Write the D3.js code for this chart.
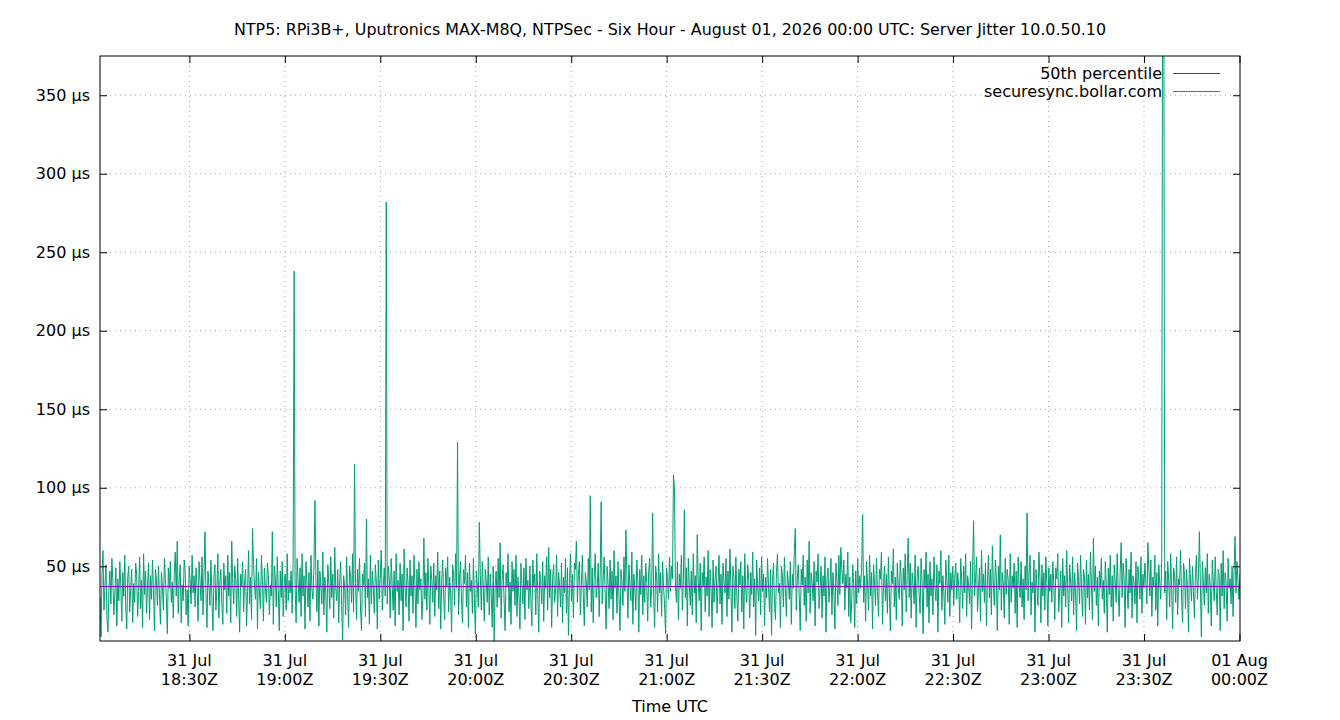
<!DOCTYPE html>
<html>
<head>
<meta charset="utf-8">
<script src="https://d3js.org/d3.v7.min.js"></script>
<style>
  body { margin: 0; background: #fff; }
  svg text { font-family: "DejaVu Sans", sans-serif; font-size: 16px; fill: #000; }
  .title { font-size: 15.9px; }
</style>
</head>
<body>
<svg id="chart" width="1340" height="720"></svg>
<script>
// chart text
const title = "NTP5: RPi3B+, Uputronics MAX-M8Q, NTPSec - Six Hour - August 01, 2026 00:00 UTC: Server Jitter 10.0.50.10";
const xTitle = "Time UTC";
const seriesNames = ["50th percentile", "securesync.bollar.com"];

// time range of the samples (UTC)
const startTime = "2026-07-31T18:01:55Z";
const endTime = "2026-08-01T00:00:10Z";

// x ticks every 30 min, y ticks in µs
const xTickTimes = [
  "2026-07-31T18:30:00Z", "2026-07-31T19:00:00Z", "2026-07-31T19:30:00Z",
  "2026-07-31T20:00:00Z", "2026-07-31T20:30:00Z", "2026-07-31T21:00:00Z",
  "2026-07-31T21:30:00Z", "2026-07-31T22:00:00Z", "2026-07-31T22:30:00Z",
  "2026-07-31T23:00:00Z", "2026-07-31T23:30:00Z", "2026-08-01T00:00:00Z"
];
const yTicks = [50, 100, 150, 200, 250, 300, 350];
const yRange = [2.4, 375];

// 50th percentile of the jitter, µs
const median50 = 37.3;

// server jitter in µs, two lines per half hour
const jitter = [
  30, 5, 44, 60, 22, 38, 51, 17, 8, 35, 47, 26, 55, 40, 19, 33, 49, 12, 42, 28, 53, 37, 15, 46, 31, 57, 24, 10, 43, 50, 21, 36, 48, 14, 39, 27, 52, 45, 18, 34, 56, 23, 41, 11, 58, 32, 47, 20,
  38, 52, 16, 44, 29, 54, 35, 9, 48, 41, 25, 50, 33, 13, 46, 37, 22, 55, 42, 30, 7, 49, 36, 53, 27, 40, 17, 45, 59, 31, 66, 20, 43, 51, 14, 38, 28, 54, 47, 19, 35, 12, 50, 41, 26, 57, 33, 44,
  24, 49, 37, 15, 53, 41, 28, 56, 19, 45, 72, 33, 11, 47, 38, 25, 54, 30, 9, 43, 51, 22, 36, 58, 17, 40, 48, 27, 13, 52, 35, 44, 20, 57, 31, 46, 14, 66, 39, 26, 50, 42, 18, 55, 29, 8, 45, 37,
  53, 21, 40, 48, 12, 34, 60, 26, 43, 16, 74, 51, 38, 29, 55, 10, 46, 33, 23, 57, 41, 15, 49, 36, 27, 52, 44, 19, 38, 31, 72, 13, 50, 42, 24, 56, 35, 9, 47, 30, 53, 18, 39, 45, 22, 58, 28, 41,
  33, 47, 20, 52, 238, 36, 14, 55, 41, 27, 49, 18, 58, 31, 44, 10, 53, 38, 24, 46, 15, 57, 35, 29, 50, 92, 42, 21, 54, 12, 47, 37, 26, 59, 19, 43, 33, 8, 51, 40, 23, 56, 30, 45, 17, 62, 36, 28,
  48, 14, 41, 53, 25, 3, 44, 37, 19, 56, 32, 11, 50, 43, 27, 58, 21, 115, 39, 16, 48, 34, 55, 24, 9, 45, 38, 52, 18, 80, 30, 42, 13, 57, 26, 47, 35, 20, 51, 40, 10, 54, 29, 44, 60, 22, 37, 49,
  31, 282, 26, 50, 43, 17, 55, 38, 22, 47, 12, 58, 34, 41, 19, 52, 28, 45, 9, 61, 36, 24, 49, 40, 15, 54, 31, 44, 20, 57, 38, 11, 48, 26, 53, 35, 42, 16, 30, 68, 29, 46, 22, 55, 37, 13, 50, 41,
  27, 52, 18, 44, 35, 59, 23, 47, 10, 40, 54, 30, 16, 49, 37, 56, 21, 43, 33, 8, 51, 45, 25, 58, 36, 129, 19, 42, 53, 28, 14, 48, 39, 57, 24, 46, 11, 52, 34, 41, 20, 55, 30, 7, 47, 38, 24, 78,
  44, 22, 53, 36, 15, 48, 40, 27, 56, 19, 45, 33, 11, 50, 2, 38, 47, 24, 55, 30, 65, 17, 42, 51, 28, 9, 46, 37, 58, 21, 40, 13, 53, 34, 48, 25, 57, 18, 43, 31, 10, 52, 39, 26, 49, 16, 55, 35,
  41, 23, 50, 29, 12, 54, 37, 45, 19, 58, 32, 8, 47, 40, 26, 53, 15, 44, 36, 56, 22, 62, 30, 48, 11, 42, 51, 27, 35, 57, 18, 46, 38, 24, 52, 14, 43, 33, 55, 20, 49, 6, 39, 58, 28, 45, 17, 52,
  48, 66, 27, 44, 53, 19, 38, 57, 31, 12, 46, 40, 24, 55, 35, 95, 21, 49, 14, 43, 58, 30, 37, 52, 18, 45, 91, 26, 41, 56, 33, 10, 50, 39, 23, 54, 29, 47, 16, 60, 36, 44, 20, 53, 31, 9, 48, 40,
  25, 56, 34, 73, 42, 17, 51, 38, 28, 59, 13, 45, 36, 22, 54, 41, 8, 48, 32, 57, 19, 44, 27, 52, 39, 15, 47, 55, 24, 35, 84, 30, 11, 50, 43, 21, 58, 33, 46, 18, 53, 37, 26, 7, 49, 41, 29, 56,
  34, 50, 42, 108, 100, 38, 27, 53, 16, 45, 36, 57, 22, 41, 86, 30, 49, 12, 55, 38, 25, 47, 19, 58, 33, 44, 14, 70, 40, 28, 52, 9, 46, 37, 56, 21, 43, 31, 60, 18, 48, 35, 11, 54, 27, 42, 50, 20,
  39, 57, 26, 45, 13, 52, 40, 33, 55, 18, 47, 29, 61, 36, 8, 50, 43, 23, 56, 31, 15, 48, 38, 53, 21, 44, 10, 58, 35, 27, 51, 41, 17, 46, 32, 59, 24, 42, 6, 54, 37, 28, 49, 19, 56, 34, 45, 12,
  43, 30, 55, 37, 21, 48, 6, 41, 52, 26, 16, 46, 58, 33, 39, 11, 50, 44, 24, 56, 35, 18, 47, 40, 29, 53, 13, 45, 36, 60, 74, 22, 42, 51, 31, 9, 48, 38, 57, 25, 43, 15, 54, 33, 66, 20, 46, 39,
  28, 53, 12, 47, 40, 58, 23, 35, 50, 17, 44, 31, 56, 8, 42, 49, 27, 38, 55, 19, 46, 34, 10, 52, 41, 25, 57, 32, 62, 48, 39, 54, 22, 45, 36, 59, 18, 43, 14, 29, 51, 37, 11, 47, 26, 55, 33, 44,
  36, 49, 83, 27, 44, 15, 53, 38, 22, 57, 31, 46, 10, 51, 40, 25, 55, 34, 18, 48, 42, 59, 13, 37, 50, 28, 45, 20, 56, 33, 9, 47, 39, 61, 24, 43, 16, 52, 36, 29, 54, 41, 12, 49, 35, 58, 21, 44,
  68, 30, 52, 17, 46, 38, 26, 57, 11, 43, 50, 33, 20, 55, 40, 7, 48, 36, 59, 24, 45, 14, 53, 31, 42, 19, 56, 37, 28, 51, 8, 47, 39, 60, 22, 44, 34, 13, 54, 41, 27, 57, 18, 46, 35, 50, 25, 43,
  52, 29, 46, 37, 14, 55, 41, 23, 50, 33, 58, 18, 44, 38, 26, 53, 10, 47, 79, 31, 42, 56, 21, 36, 49, 15, 60, 34, 45, 27, 52, 12, 40, 57, 30, 48, 19, 63, 38, 25, 54, 43, 9, 50, 35, 70, 22, 46,
  39, 17, 55, 32, 48, 41, 13, 58, 27, 44, 36, 52, 20, 47, 11, 56, 38, 30, 53, 24, 42, 16, 50, 35, 84, 28, 45, 57, 19, 40, 33, 54, 8, 48, 37, 25, 59, 43, 14, 51, 31, 46, 22, 56, 39, 12, 49, 34,
  45, 27, 53, 38, 16, 49, 42, 58, 21, 35, 47, 11, 55, 31, 44, 24, 60, 37, 14, 51, 40, 28, 56, 19, 46, 33, 9, 52, 41, 26, 57, 36, 18, 48, 43, 13, 54, 30, 45, 22, 59, 38, 16, 68, 34, 50, 25, 43,
  12, 47, 36, 55, 29, 41, 20, 53, 38, 8, 49, 32, 57, 24, 44, 15, 51, 40, 27, 58, 35, 18, 46, 65, 30, 52, 42, 11, 55, 37, 23, 48, 33, 59, 17, 44, 39, 26, 53, 14, 50, 41, 29, 56, 20, 45, 36, 52,
  40, 26, 65, 48, 31, 54, 18, 43, 37, 57, 22, 46, 12, 51, 39, 29, 55, 520, 450, 33, 47, 16, 53, 41, 24, 58, 35, 10, 49, 44, 27, 56, 19, 42, 38, 60, 30, 14, 52, 45, 23, 48, 36, 8, 55, 41, 28, 50,
  34, 17, 46, 57, 29, 43, 72, 38, 5, 53, 40, 25, 49, 33, 58, 20, 45, 37, 12, 54, 41, 28, 56, 35, 19, 48, 44, 9, 52, 31, 60, 23, 46, 39, 15, 55, 36, 42, 26, 50, 18, 47, 69, 33, 53, 40, 29, 45
];

const colors = ["#9400d3", "#009e73"];

const margin = { top: 56, right: 100, bottom: 79, left: 100 };
const width = 1340 - margin.left - margin.right;
const height = 720 - margin.top - margin.bottom;

const svg = d3.select("#chart");
const g = svg.append("g")
  .attr("transform", `translate(${margin.left},${margin.top})`);

const t0 = new Date(startTime), t1 = new Date(endTime);
const step = (t1 - t0) / (jitter.length - 1);
const samples = jitter.map((v, i) => ({ t: new Date(+t0 + i * step), v }));

const x = d3.scaleUtc().domain([t0, t1]).range([0, width]);
const y = d3.scaleLinear().domain(yRange).range([height, 0]);

const xTicks = xTickTimes.map(d => new Date(d));
const fmtDay = d3.utcFormat("%d %b");
const fmtTime = d3.utcFormat("%H:%MZ");

// grid
g.append("g")
  .selectAll("line")
  .data(yTicks)
  .join("line")
    .attr("x1", 0).attr("x2", width)
    .attr("y1", d => y(d)).attr("y2", d => y(d))
    .attr("stroke", "#a8a8a8")
    .attr("stroke-dasharray", "1,4");

g.append("g")
  .selectAll("line")
  .data(xTicks.filter(d => x(d) < width - 2))
  .join("line")
    .attr("x1", d => x(d)).attr("x2", d => x(d))
    .attr("y1", 0).attr("y2", height)
    .attr("stroke", "#a8a8a8")
    .attr("stroke-dasharray", "1,4");

// series
g.append("clipPath").attr("id", "clip")
  .append("rect").attr("width", width).attr("height", height);

const plot = g.append("g").attr("clip-path", "url(#clip)");

plot.append("path")
  .datum(samples)
  .attr("fill", "none")
  .attr("stroke", colors[1])
  .attr("stroke-width", 1)
  .attr("d", d3.line().x(d => x(d.t)).y(d => y(d.v)));

plot.append("line")
  .attr("x1", 0).attr("x2", width)
  .attr("y1", y(median50)).attr("y2", y(median50))
  .attr("stroke", colors[0])
  .attr("stroke-width", 1)
  .attr("shape-rendering", "crispEdges");

// axes (gnuplot style: inward ticks, mirrored)
const tick = 7;
g.append("g")
  .attr("transform", `translate(0,${height})`)
  .call(d3.axisBottom(x).tickValues(xTicks).tickSizeInner(-tick).tickSizeOuter(0).tickFormat(""))
  .call(a => a.select(".domain").remove());
g.append("g")
  .call(d3.axisTop(x).tickValues(xTicks).tickSizeInner(-tick).tickSizeOuter(0).tickFormat(""))
  .call(a => a.select(".domain").remove());
g.append("g")
  .call(d3.axisLeft(y).tickValues(yTicks).tickSizeInner(-tick).tickSizeOuter(0).tickPadding(10)
    .tickFormat(d => d + " µs"))
  .call(a => a.select(".domain").remove());
g.append("g")
  .attr("transform", `translate(${width},0)`)
  .call(d3.axisRight(y).tickValues(yTicks).tickSizeInner(-tick).tickSizeOuter(0).tickFormat(""))
  .call(a => a.select(".domain").remove());

g.append("rect")
  .attr("width", width).attr("height", height)
  .attr("fill", "none").attr("stroke", "#000").attr("stroke-width", 1);

// x tick labels on two lines
const xl = g.append("g").selectAll("text")
  .data(xTicks)
  .join("text")
    .attr("x", d => x(d))
    .attr("y", height + 25)
    .attr("text-anchor", "middle");
xl.append("tspan").attr("x", d => x(d)).text(d => fmtDay(d));
xl.append("tspan").attr("x", d => x(d)).attr("dy", 19).text(d => fmtTime(d));

// titles
svg.append("text")
  .attr("class", "title")
  .attr("x", 670).attr("y", 35)
  .attr("text-anchor", "middle")
  .text(title);

svg.append("text")
  .attr("x", 670).attr("y", 712)
  .attr("text-anchor", "middle")
  .text(xTitle);

// legend
const legend = g.append("g").selectAll("g")
  .data(seriesNames)
  .join("g")
    .attr("transform", (d, i) => `translate(0,${17 + i * 18})`);
legend.append("text")
  .attr("x", width - 78).attr("dy", "0.35em")
  .attr("text-anchor", "end")
  .text(d => d);
legend.append("line")
  .attr("x1", width - 67).attr("x2", width - 20)
  .attr("stroke", (d, i) => colors[i])
  .attr("shape-rendering", "crispEdges");
</script>
</body>
</html>
